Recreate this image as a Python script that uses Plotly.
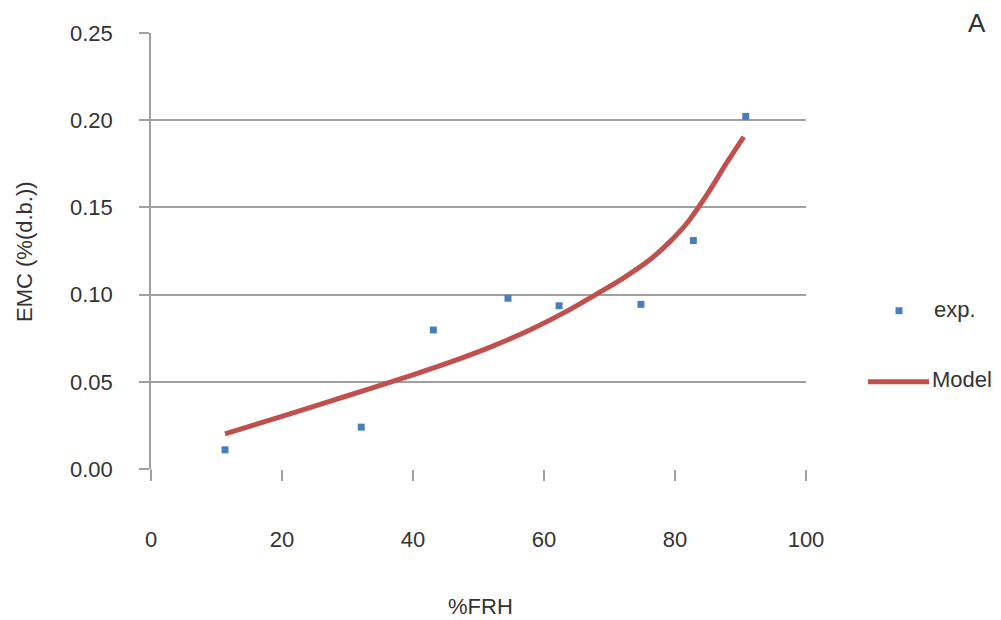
import plotly.graph_objects as go

# Experimental data
exp_rh = [11.3, 32.1, 43.1, 54.5, 62.3, 74.8, 82.8, 90.8]
exp_emc = [0.011, 0.024, 0.0797, 0.0979, 0.0936, 0.0944, 0.131, 0.2022]

# Model curve
model_rh = [11.3, 20.0, 30.0, 40.0, 46.0, 52.0, 58.0, 63.0, 68.0, 72.0, 76.0, 79.0, 82.0, 85.0, 88.0, 90.5]
model_emc = [0.0201, 0.0302, 0.0420, 0.0540, 0.0617, 0.0702, 0.0800, 0.0895, 0.1003, 0.1092,
             0.1195, 0.1295, 0.1418, 0.1580, 0.1762, 0.1905]

x_ticks = [0, 20, 40, 60, 80, 100]
y_ticks = [0.00, 0.05, 0.10, 0.15, 0.20, 0.25]

FONT = "Liberation Sans, Arial, sans-serif"
TXT = "#333333"
GRID = "#a0a0a0"
BLUE = "#4a7ebb"
RED = "#c0504d"

fig = go.Figure()
fig.add_trace(go.Scatter(x=exp_rh, y=exp_emc, mode="markers", name="exp.",
                         marker=dict(symbol="square", size=7, color=BLUE),
                         showlegend=False))
fig.add_trace(go.Scatter(x=model_rh, y=model_emc, mode="lines", name="Model",
                         line=dict(color=RED, width=5, shape="spline", smoothing=1.0),
                         showlegend=False))

L, R, T, B = 151, 195, 33, 151
W, H = 1001, 620
pw = W - L - R
ph = H - T - B

def px(xp):
    return (xp - L) / pw

def py(yp):
    return (H - B - yp) / ph

fig.update_layout(
    width=W, height=H,
    margin=dict(l=L, r=R, t=T, b=B),
    paper_bgcolor="white", plot_bgcolor="white",
    font=dict(family=FONT, size=22, color=TXT),
    showlegend=False,
)
fig.update_xaxes(
    range=[0, 100], tickvals=x_ticks, ticktext=[str(v) for v in x_ticks],
    showgrid=False, zeroline=False,
    showline=False,
    ticks="outside", ticklen=11, tickwidth=1.5, tickcolor=GRID,
    ticklabelstandoff=40,
    tickfont=dict(size=22, color=TXT),
)
fig.update_yaxes(
    range=[0, 0.25], tickvals=y_ticks, ticktext=[f"{v:.2f}" for v in y_ticks],
    showgrid=True, gridcolor=GRID, gridwidth=1.5,
    zeroline=False,
    showline=True, linecolor=GRID, linewidth=1.5,
    ticks="outside", ticklen=10, tickwidth=1.5, tickcolor=GRID,
    ticklabelstandoff=22,
    tickfont=dict(size=22, color=TXT),
)

# y axis line extension down to x tick length
fig.add_shape(type="line", xref="paper", yref="paper", x0=0, x1=0, y0=0, y1=py(480),
              line=dict(color=GRID, width=1.5))

annotations = [
    dict(text="EMC (%(d.b.))", x=px(24), y=0.5, textangle=-90, showarrow=False,
         xref="paper", yref="paper", xanchor="center", yanchor="middle",
         font=dict(size=22, color=TXT)),
    dict(text="%FRH", x=px(480), y=py(606), showarrow=False,
         xref="paper", yref="paper", xanchor="center", yanchor="middle",
         font=dict(size=22, color=TXT)),
    dict(text="A", x=px(977), y=py(23), showarrow=False,
         xref="paper", yref="paper", xanchor="center", yanchor="middle",
         font=dict(size=26, color=TXT)),
    dict(text="exp.", x=px(932), y=py(309), showarrow=False,
         xref="paper", yref="paper", xanchor="left", yanchor="middle",
         font=dict(size=22, color=TXT)),
    dict(text="Model", x=px(930), y=py(379), showarrow=False,
         xref="paper", yref="paper", xanchor="left", yanchor="middle",
         font=dict(size=22, color=TXT)),
]
fig.update_layout(annotations=annotations)

# manual legend symbols
fig.add_shape(type="rect", xref="paper", yref="paper",
              xsizemode="pixel", ysizemode="pixel",
              xanchor=px(899), yanchor=py(310.7),
              x0=-3.5, x1=3.5, y0=-3.5, y1=3.5,
              fillcolor=BLUE, line=dict(width=0))
fig.add_shape(type="line", xref="paper", yref="paper",
              x0=px(868), x1=px(929), y0=py(381.7), y1=py(381.7),
              line=dict(color=RED, width=5))

fig.write_html("out.html")
